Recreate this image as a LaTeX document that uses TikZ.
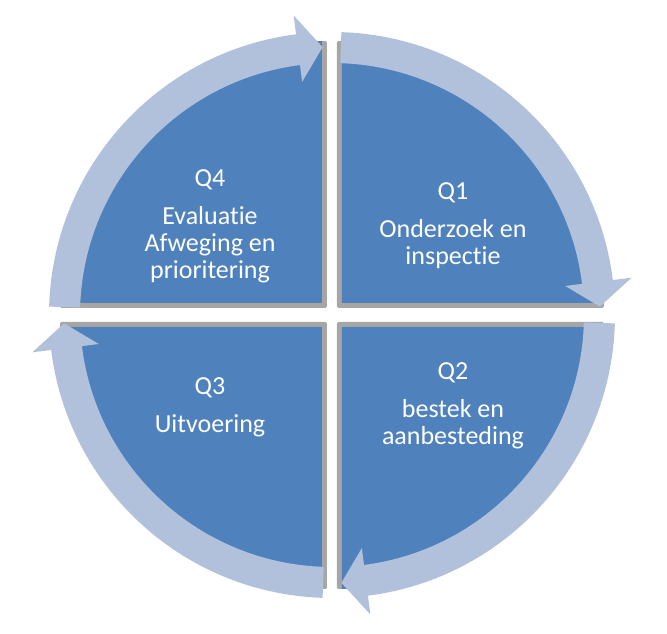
\documentclass[tikz,border=0pt]{standalone}
\usepackage{fontspec}
\setmainfont{Carlito}[Ligatures={NoCommon,NoRequired,NoContextual}]
\definecolor{pieblue}{HTML}{4F81BD}
\definecolor{bandblue}{HTML}{B2C1DB}
\definecolor{edgegray}{HTML}{A6A6A6}
\begin{document}
\begin{tikzpicture}[x=1pt,y=1pt,
  quadtext/.style={text=white, font=\fontsize{26}{27}\selectfont, align=center, inner sep=0pt, anchor=north},
  piegray/.style={fill=edgegray, rounded corners=1.5pt},
  pieface/.style={fill=pieblue},
  band/.style={fill=bandblue}]
\useasboundingbox (-332,-319) rectangle (335,315);
% gray side faces
\fill[piegray] (5,7) -- ++(267,0) arc[start angle=0,end angle=90,radius=267] -- cycle;
\fill[piegray] (-5,7) -- ++(0,267) arc[start angle=90,end angle=180,radius=267] -- cycle;
\fill[piegray] (-5,-7) -- ++(-267,0) arc[start angle=180,end angle=270,radius=267] -- cycle;
\fill[piegray] (5,-7) -- ++(0,-267) arc[start angle=270,end angle=360,radius=267] -- cycle;
% blue faces
\fill[pieface] (10,12) -- ++(262,0) arc[start angle=0,end angle=90,radius=262] -- cycle;
\fill[pieface] (-10,12) -- ++(0,262) arc[start angle=90,end angle=180,radius=262] -- cycle;
\fill[pieface] (-10,-12) -- ++(-262,0) arc[start angle=180,end angle=270,radius=262] -- cycle;
\fill[pieface] (10,-12) -- ++(0,-262) arc[start angle=270,end angle=360,radius=262] -- cycle;
% circular arrows
\foreach \s [evaluate=\s as \b using \s-81, evaluate=\s as \t using \s-86.3] in {88.1,-1.7,-91.9,178.3}{
  \fill[band] (\s:283) arc[start angle=\s, end angle=\b, radius=283]
    -- (\b:302) -- (\t:268) -- (\b:235) -- (\b:252)
    arc[start angle=\b, end angle=\s, radius=252] -- cycle;
}
% labels
\node[quadtext] (q4) at (-122,146) {Q4\\[11pt]Evaluatie\\Afweging en\\prioritering};
\node[quadtext] (q1) at (121,133) {Q1\\[11pt]Onderzoek en\\inspectie};
\node[quadtext] (q2) at (121,-47) {Q2\\[11pt]bestek en\\aanbesteding};
\node[quadtext] (q3) at (-122,-62) {Q3\\[11pt]Uitvoering};
\end{tikzpicture}
\end{document}
